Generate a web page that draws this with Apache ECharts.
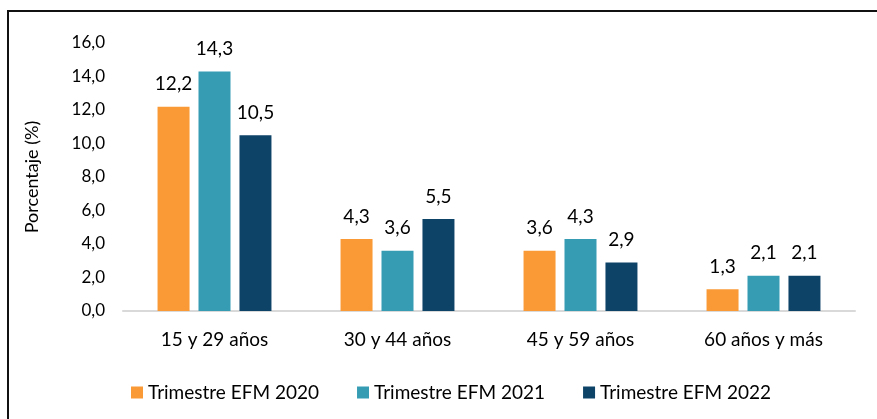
<!DOCTYPE html>
<html lang="es">
<head>
  <meta charset="UTF-8">
  <title>Porcentaje por grupo de edad</title>
  <script src="https://cdn.jsdelivr.net/npm/echarts@6/dist/echarts.min.js"></script>
  <style>
    body { margin: 0; background: #fff; }
    #chart { width: 877px; height: 419px; }
  </style>
</head>
<body>
<div id="chart"></div>
<script>
var categorias = ['15 y 29 años', '30 y 44 años', '45 y 59 años', '60 años y más'];
var serie2020 = [12.2, 4.3, 3.6, 1.3];
var serie2021 = [14.3, 3.6, 4.3, 2.1];
var serie2022 = [10.5, 5.5, 2.9, 2.1];
var nombres = ['Trimestre EFM 2020', 'Trimestre EFM 2021', 'Trimestre EFM 2022'];
var colores = ['#F99A36', '#359CB4', '#0E4368'];

var fuente = 'Lato, "Open Sans", sans-serif';

function coma(v) {
  return v.toFixed(1).replace('.', ',');
}

function barra(nombre, datos, color) {
  return {
    name: nombre,
    type: 'bar',
    data: datos,
    barWidth: 32,
    barGap: '28%',
    itemStyle: { color: color },
    label: {
      show: true,
      position: 'top',
      distance: 13,
      color: '#000',
      fontSize: 19,
      fontFamily: fuente,
      formatter: function (p) { return coma(p.value); }
    }
  };
}

var myChart = echarts.init(document.getElementById('chart'));
var option = {
  animation: false,
  backgroundColor: '#fff',
  color: colores,
  graphic: [{
    type: 'rect',
    shape: { x: 8, y: 11, width: 880, height: 420 },
    style: { fill: 'none', stroke: '#111', lineWidth: 2 }
  }],
  grid: { left: 123, right: 22, top: 43, bottom: 108 },
  legend: {
    top: 378,
    left: 126,
    itemWidth: 12,
    itemHeight: 12,
    itemGap: 38,
    icon: 'rect',
    textStyle: { fontSize: 19, color: '#000', fontFamily: fuente },
    data: nombres
  },
  xAxis: {
    type: 'category',
    data: categorias,
    axisLine: { show: true, lineStyle: { color: '#D9D9D9', width: 2 } },
    axisTick: { show: false },
    axisLabel: { fontSize: 19, color: '#000', margin: 19, fontFamily: fuente }
  },
  yAxis: {
    type: 'value',
    min: 0,
    max: 16,
    interval: 2,
    name: 'Porcentaje (%)',
    nameLocation: 'middle',
    nameGap: 82,
    nameTextStyle: { fontSize: 18, color: '#000', fontFamily: fuente },
    splitLine: { show: false },
    axisLine: { show: false },
    axisTick: { show: false },
    axisLabel: {
      fontSize: 17,
      color: '#000',
      margin: 18,
      fontFamily: fuente,
      formatter: function (v) { return coma(v); }
    }
  },
  series: [
    barra(nombres[0], serie2020, colores[0]),
    barra(nombres[1], serie2021, colores[1]),
    barra(nombres[2], serie2022, colores[2])
  ]
};
myChart.setOption(option);
</script>
</body>
</html>
